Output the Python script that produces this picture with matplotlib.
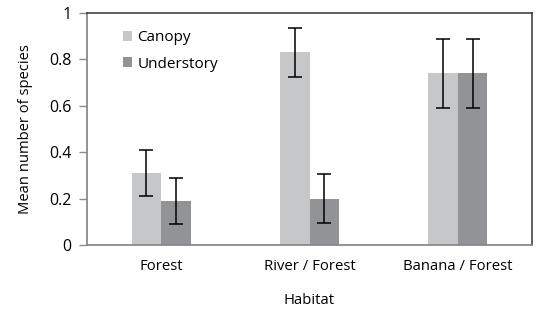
import matplotlib.pyplot as plt
import numpy as np

habitats = ['Forest', 'River / Forest', 'Banana / Forest']
canopy = [0.31, 0.83, 0.74]
canopy_err = [0.10, 0.107, 0.15]
understory = [0.19, 0.20, 0.74]
understory_err = [0.10, 0.107, 0.15]

plt.rcParams['font.family'] = ['Open Sans', 'DejaVu Sans']

fig = plt.figure(figsize=(5.47, 3.22), dpi=100)
ax = fig.add_axes([87 / 547, 77 / 322, 445 / 547, 232 / 322])

x = np.arange(len(habitats))
w = 0.2
err_kw = dict(ecolor='black', elinewidth=1.1, capsize=5, capthick=1.1)
ax.bar(x - w / 2, canopy, w, yerr=canopy_err, color='#c6c7c9',
       label='Canopy', error_kw=err_kw)
ax.bar(x + w / 2, understory, w, yerr=understory_err, color='#929396',
       label='Understory', error_kw=err_kw)

ax.set_xlim(-0.5, 2.5)
ax.set_ylim(0, 1)
ax.set_yticks([0, 0.2, 0.4, 0.6, 0.8, 1])
ax.set_yticklabels(['0', '0.2', '0.4', '0.6', '0.8', '1'])
ax.set_xticks(x)
ax.set_xticklabels(habitats)
ax.tick_params(axis='x', length=0, pad=10, labelsize=10.7)
ax.tick_params(axis='y', length=6, width=1, color='#8a8a8a', labelsize=11.5, pad=5)

for s in ['left', 'bottom']:
    ax.spines[s].set_color('#8a8a8a')
    ax.spines[s].set_linewidth(1.3)
for s in ['top', 'right']:
    ax.spines[s].set_color('#333333')
    ax.spines[s].set_linewidth(1.1)

ax.set_xlabel('Habitat', fontsize=10.7, labelpad=14)
ax.set_ylabel('Mean number of species', fontsize=10.6, labelpad=12)

ax.legend(loc='upper left', bbox_to_anchor=(0.05, 0.985), frameon=False,
          handlelength=0.6, handleheight=0.6, handletextpad=0.35,
          labelspacing=0.75, fontsize=11)

fig.savefig('out.png', dpi=100)
